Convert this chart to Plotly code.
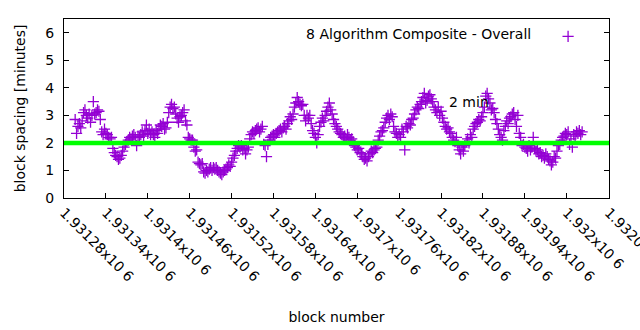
import plotly.graph_objects as go

# ---- data ----
first_block = 1931296
block_step = 2
spacing_minutes = [
    2.85, 2.35, 2.6, 2.7, 2.55, 2.8,
    3.1, 3.2, 3.0, 2.9, 3.05,
    2.75, 3.0, 3.5, 3.05,
    3.1, 3.2, 3.15, 2.85,
    2.4, 2.3, 2.5, 2.35,
    2.3, 2.2, 2.15, 2.2,
    1.8, 1.65, 1.55, 1.5,
    1.4, 1.45, 1.55,
    1.7, 1.85, 1.95, 2.05,
    2.1, 2.2, 2.15, 2.25, 2.3, 2.2, 1.9, 2.25, 2.2,
    2.3, 2.4, 2.25, 2.45, 2.65, 2.35, 2.5, 2.3,
    2.4, 2.3, 2.2, 2.45, 2.35, 2.5,
    2.65, 2.6, 2.7, 2.5, 2.55, 2.75,
    3.1, 3.3, 3.4, 3.25, 3.3, 3.05,
    2.9, 2.75, 2.95, 3.0,
    3.1, 3.2, 2.8, 2.65,
    2.2, 2.15, 2.1, 2.1,
    1.85, 1.7, 1.75,
    1.3, 1.25, 1.2, 1.25,
    0.95, 0.9, 1.0, 0.95, 1.05, 1.1, 1.0,
    1.1, 1.05, 1.1, 1.0, 0.95, 0.9,
    0.85, 0.95, 1.0, 1.05,
    1.1, 1.2, 1.15, 1.3, 1.45,
    1.55, 1.7, 1.8, 1.9,
    1.85, 1.9, 1.75, 1.8, 1.6, 1.75, 1.85,
    2.15, 2.3, 2.4, 2.35, 2.45,
    2.5, 2.55, 2.4, 2.5, 2.6,
    1.95, 1.9, 1.5, 1.95,
    2.1, 2.2, 2.25, 2.3, 2.2, 2.35,
    2.4, 2.45, 2.5, 2.4, 2.55, 2.6, 2.5,
    2.7, 2.8, 2.95, 2.85, 3.05,
    3.3, 3.45, 3.65, 3.5, 3.4,
    3.35, 3.4, 3.0, 2.8,
    3.0, 2.9, 3.0, 2.7,
    2.45, 2.35, 2.2, 2.0, 2.3,
    2.6, 2.75, 2.9, 2.8,
    3.0, 3.15, 3.3, 3.45, 3.2, 3.05,
    2.85, 2.7, 2.6, 2.5, 2.4,
    2.35, 2.3, 2.2, 2.25, 2.15, 2.3, 2.2, 2.1, 2.15, 2.05,
    1.9, 1.85, 1.75, 1.8, 1.65, 1.6, 1.5,
    1.4, 1.45, 1.35, 1.5,
    1.6, 1.7, 1.65, 1.75, 1.8, 1.85,
    2.1, 2.25, 2.4, 2.45, 2.55,
    2.75, 2.9, 3.0, 2.85, 3.05, 2.95,
    2.6, 2.4, 2.35, 2.2,
    2.3, 2.2, 2.5, 2.4, 1.75, 2.6, 2.55, 2.7, 2.65,
    2.85, 2.9, 3.05, 3.2, 3.3, 3.25, 3.4,
    3.5, 3.65, 3.8, 3.45, 3.55,
    3.7, 3.75, 3.6, 3.5, 3.3, 3.2,
    3.1, 3.3, 3.0, 3.15, 2.9,
    2.75, 2.6, 2.5, 2.55, 2.4, 2.35,
    2.2, 2.1, 2.05, 2.2,
    1.9, 1.75, 1.6, 1.85, 1.7, 1.9,
    2.05, 2.15, 2.0, 2.3, 2.2,
    2.5, 2.6, 2.7, 2.75, 2.85, 2.8, 2.95,
    3.1, 3.3, 3.7, 3.8, 3.6, 3.45,
    3.2, 3.25, 3.1, 2.85, 2.7,
    2.5, 2.3, 2.2, 2.1,
    2.45, 2.6, 2.8, 2.7, 2.9,
    2.95, 3.05, 3.1, 2.85, 2.6, 3.0,
    2.35, 2.2, 1.9, 1.95,
    1.85, 1.8, 1.7, 1.9, 1.75, 1.85, 2.2,
    1.8, 1.7, 1.75, 1.6,
    1.65, 1.5, 1.55, 1.45, 1.6, 1.5,
    1.4, 1.35, 1.2, 1.3, 1.5, 1.45,
    1.7, 1.9, 1.95, 2.1,
    2.2, 2.25, 2.35, 2.3, 2.4,
    1.95, 2.15, 1.85, 2.3,
    2.25, 2.4, 2.35, 2.45, 2.3, 2.4,
]
block_numbers = [first_block + block_step * i for i in range(len(spacing_minutes))]

target_minutes = 2
x_tick_values = [1931280, 1931340, 1931400, 1931460, 1931520, 1931580, 1931640,
                 1931700, 1931760, 1931820, 1931880, 1931940, 1932000, 1932060]
x_tick_labels = ["1.93128x10 6", "1.93134x10 6", "1.9314x10 6", "1.93146x10 6",
                 "1.93152x10 6", "1.93158x10 6", "1.93164x10 6", "1.9317x10 6",
                 "1.93176x10 6", "1.93182x10 6", "1.93188x10 6", "1.93194x10 6",
                 "1.932x10 6", "1.93206x10 6"]
y_tick_values = [0, 1, 2, 3, 4, 5, 6]
series_name = "8 Algorithm Composite - Overall"

FONT = "DejaVu Sans"
PURPLE = "#9400d3"

fig = go.Figure()
fig.add_trace(go.Scatter(
    x=block_numbers, y=spacing_minutes, mode="markers", name=" ",
    marker=dict(symbol="cross-thin", size=8, color=PURPLE,
                line=dict(width=1.3, color=PURPLE)),
    showlegend=True,
))
fig.add_hline(y=target_minutes, line=dict(color="#00ff00", width=4.5), layer="above")

fig.add_annotation(x=1931828, y=3.5, xref="x", yref="y", text="2 min",
                   showarrow=False, xanchor="left", yanchor="middle",
                   font=dict(family=FONT, size=14, color="#000000"))

fig.update_layout(
    width=640, height=330,
    margin=dict(l=64, r=31, t=19, b=132),
    paper_bgcolor="white", plot_bgcolor="white",
    font=dict(family=FONT, size=14, color="#000000"),
    legend=dict(
        x=0.98, y=0.99, xanchor="right", yanchor="top",
        bgcolor="rgba(0,0,0,0)",
        title=dict(text=series_name + "\u00a0\u00a0", side="left",
                   font=dict(family=FONT, size=14)),
        font=dict(family=FONT, size=14), itemwidth=30,
    ),
    xaxis=dict(
        range=[1931280, 1932060.5], tickmode="array",
        tickvals=x_tick_values, ticktext=x_tick_labels, tickangle=45,
        ticks="inside", ticklen=5, tickcolor="#000000",
        showline=True, linecolor="#000000", linewidth=1, mirror=True,
        showgrid=False, zeroline=False, automargin=False,
        ticklabeloverflow="allow",
        tickfont=dict(family=FONT, size=14),
        title=dict(text="block number", standoff=28,
                   font=dict(family=FONT, size=14)),
    ),
    yaxis=dict(
        range=[0, 6.5], tickmode="array", tickvals=y_tick_values,
        ticks="inside", ticklen=5, tickcolor="#000000",
        showline=True, linecolor="#000000", linewidth=1, mirror="ticks",
        showgrid=False, zeroline=False, ticklabelstandoff=6, automargin=False,
        tickfont=dict(family=FONT, size=14),
        title=dict(text="block spacing [minutes]", standoff=16,
                   font=dict(family=FONT, size=14)),
    ),
)

fig.write_html("out.html")
